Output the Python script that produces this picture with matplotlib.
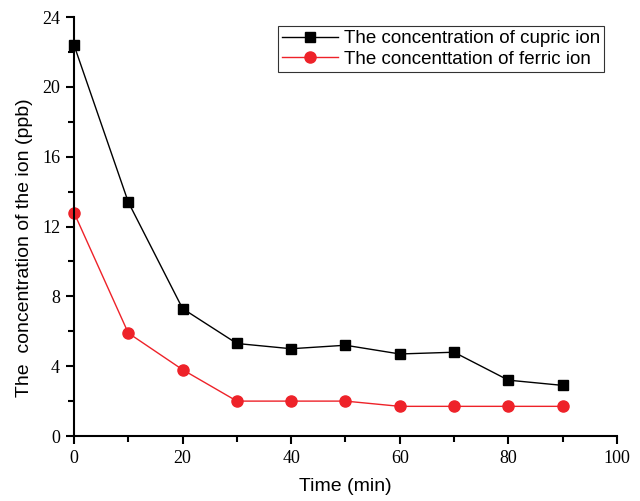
import numpy as np
import matplotlib
matplotlib.use("Agg")
import matplotlib.pyplot as plt
from matplotlib.ticker import MultipleLocator

# data
time = [0, 10, 20, 30, 40, 50, 60, 70, 80, 90]
cupric = [22.4, 13.4, 7.3, 5.3, 5.0, 5.2, 4.7, 4.8, 3.2, 2.9]
ferric = [12.8, 5.9, 3.8, 2.0, 2.0, 2.0, 1.7, 1.7, 1.7, 1.7]

fig = plt.figure(figsize=(6.4, 5.01), dpi=100)
ax = fig.add_axes([0.1156, 0.1297, 0.8484, 0.8363])

ax.plot(time, cupric, 'k-', marker='s', ms=7, lw=1, label='The concentration of cupric ion', clip_on=False)
ax.plot(time, ferric, '-', color='#ee2229', marker='o', ms=8, lw=1, label='The concenttation of ferric ion', clip_on=False)

ax.set_xlim(0, 100)
ax.set_ylim(0, 24)
ax.xaxis.set_major_locator(MultipleLocator(20))
ax.xaxis.set_minor_locator(MultipleLocator(10))
ax.yaxis.set_major_locator(MultipleLocator(4))
ax.yaxis.set_minor_locator(MultipleLocator(2))
ax.spines['top'].set_visible(False)
ax.spines['right'].set_visible(False)
ax.spines['left'].set_linewidth(1.5)
ax.spines['bottom'].set_linewidth(1.5)
ax.tick_params(which='major', direction='out', length=6, width=1.5, pad=4)
ax.tick_params(which='minor', direction='out', length=4, width=1.5)
for lab in ax.get_xticklabels() + ax.get_yticklabels():
    lab.set_fontfamily('Liberation Serif')
    lab.set_fontsize(13)

ax.set_xlabel("Time (min)", fontsize=14, family='Liberation Sans', labelpad=8)
ax.set_ylabel("The  concentration of the ion (ppb)", fontsize=14, family='Liberation Sans')
ax.yaxis.set_label_coords(-0.075, 0.45)

leg = ax.legend(loc='upper right', bbox_to_anchor=(0.976, 0.978), fancybox=False, edgecolor='k',
                prop={'family': 'Liberation Sans', 'size': 13.5}, handlelength=3.0,
                borderpad=0.2, labelspacing=0.2, handletextpad=0.3, borderaxespad=0)
leg.get_frame().set_linewidth(0.8)

plt.savefig("out.png", dpi=100)
